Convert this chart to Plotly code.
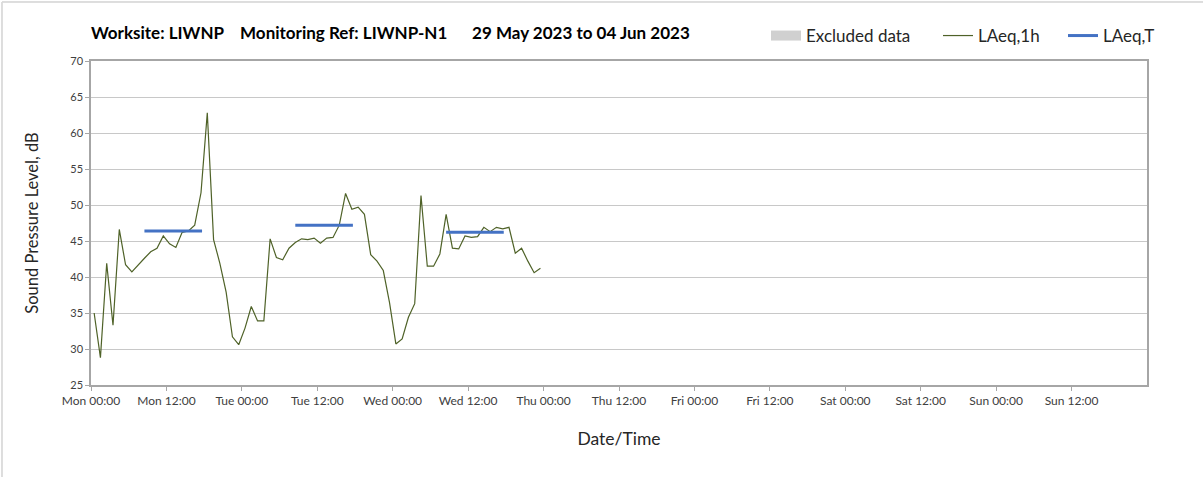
import pandas as pd
import plotly.graph_objects as go

# ---------------------------------------------------------------------------
# Data
# ---------------------------------------------------------------------------
start = "2023-05-29 00:30"
laeq_1h_mon = [35.0, 28.8, 41.9, 33.3, 46.6, 41.7, 40.7, 41.7, 42.6, 43.5, 44.0, 45.7,
               44.6, 44.1, 46.2, 46.4, 47.2, 51.7, 62.8, 45.2, 41.9, 37.9, 31.7, 30.6]
laeq_1h_tue = [32.9, 35.9, 33.9, 33.9, 45.3, 42.7, 42.4, 44.0, 44.8, 45.3, 45.2, 45.4,
               44.7, 45.4, 45.5, 47.2, 51.6, 49.4, 49.7, 48.7, 43.1, 42.2, 40.9, 36.4]
laeq_1h_wed = [30.7, 31.4, 34.4, 36.3, 51.3, 41.5, 41.5, 43.2, 48.7, 44.0, 43.9, 45.7,
               45.5, 45.6, 46.9, 46.3, 46.9, 46.7, 46.9, 43.3, 44.0, 42.2, 40.6, 41.2]

laeq_t_start = ["2023-05-29 08:30", "2023-05-30 08:30", "2023-05-31 08:30"]
laeq_t_end = ["2023-05-29 17:40", "2023-05-30 17:40", "2023-05-31 17:40"]
laeq_t_values = [46.4, 47.2, 46.2]

day_lines = pd.date_range("2023-05-29", "2023-06-05", freq="D")
tick_times = pd.date_range("2023-05-29", "2023-06-04 12:00", freq="12h")

title_text = ("Worksite: LIWNP&nbsp;&nbsp;&nbsp; Monitoring Ref: LIWNP-N1"
              "&nbsp;&nbsp;&nbsp;&nbsp;&nbsp; 29 May 2023 to 04 Jun 2023")

FONT = "Lato, 'Open Sans', sans-serif"
GREEN = "#4F6228"
BLUE = "#4472C4"

W, H = 1203, 477
L, R, T, B = 91, 56, 61, 92
PW, PH = W - L - R, H - T - B

# ---------------------------------------------------------------------------
# Build figure
# ---------------------------------------------------------------------------
laeq_1h = laeq_1h_mon + laeq_1h_tue + laeq_1h_wed
times = pd.date_range(start, periods=len(laeq_1h), freq="h")

t_x, t_y = [], []
for s, e, v in zip(laeq_t_start, laeq_t_end, laeq_t_values):
    t_x += [pd.Timestamp(s), pd.Timestamp(e), None]
    t_y += [v, v, None]

fig = go.Figure()
# legend-only entry: no excluded periods in this week
fig.add_trace(go.Scatter(x=[None], y=[None], mode="lines", name="Excluded data",
                         line=dict(color="#D0D0D0", width=11), legend="legend"))
fig.add_trace(go.Scatter(x=times, y=laeq_1h, mode="lines", name="LAeq,1h",
                         line=dict(color=GREEN, width=1.2), legend="legend2"))
fig.add_trace(go.Scatter(x=t_x, y=t_y, mode="lines", name="LAeq,T",
                         line=dict(color=BLUE, width=3), legend="legend3"))

for d in day_lines[1:-1]:
    fig.add_vline(x=d, line=dict(color="#D9D9D9", width=1), layer="below")


def _legend(px_left):
    return dict(orientation="h", x=(px_left - L) / PW, xanchor="left",
                y=1 + (T - 36) / PH, yanchor="middle",
                font=dict(size=17, color="#262626"),
                itemwidth=30, bgcolor="rgba(0,0,0,0)", borderwidth=0)


fig.update_layout(
    width=W, height=H,
    margin=dict(l=L, r=R, t=T, b=B),
    paper_bgcolor="white", plot_bgcolor="white",
    font=dict(family=FONT, color="#262626"),
    title=dict(text=f"<b>{title_text}</b>", x=L / W, xanchor="left",
               y=1 - 33 / H, yanchor="middle",
               font=dict(size=17, color="#000000")),
    legend=_legend(766),
    legend2=_legend(938),
    legend3=_legend(1063),
    showlegend=True,
    shapes=[
        dict(type="line", xref="paper", yref="paper", x0=(2 - L) / PW,
             x1=(2 - L) / PW, y0=-B / PH, y1=1 + (T - 2) / PH,
             line=dict(color="#D9D9D9", width=1)),
        dict(type="line", xref="paper", yref="paper", x0=(2 - L) / PW,
             x1=1 + R / PW, y0=1 + (T - 2) / PH, y1=1 + (T - 2) / PH,
             line=dict(color="#D9D9D9", width=1)),
    ],
)

fig.update_xaxes(
    type="date",
    range=["2023-05-29 00:00", "2023-06-05 00:00"],
    tickvals=list(tick_times),
    tickformat="%a %H:%M",
    tickfont=dict(size=12, color="#404040"),
    ticks="outside", ticklen=4, tickcolor="#A6A6A6",
    showgrid=False, zeroline=False,
    showline=True, linecolor="#A6A6A6", linewidth=1.5, mirror=True,
    title=dict(text="Date/Time", font=dict(size=17.5, color="#262626"), standoff=26),
)
fig.update_yaxes(
    range=[25, 70], dtick=5,
    tickfont=dict(size=11, color="#404040"),
    ticks="outside", ticklen=4, tickcolor="#A6A6A6",
    showgrid=True, gridcolor="#C8C8C8", gridwidth=1, zeroline=False,
    showline=True, linecolor="#A6A6A6", linewidth=1.5, mirror=True,
    title=dict(text="Sound Pressure Level, dB", font=dict(size=16.5, color="#262626"),
               standoff=28),
)

fig.write_html("out.html", config={"displayModeBar": False},
               post_script="document.body.style.margin = '0px';")
